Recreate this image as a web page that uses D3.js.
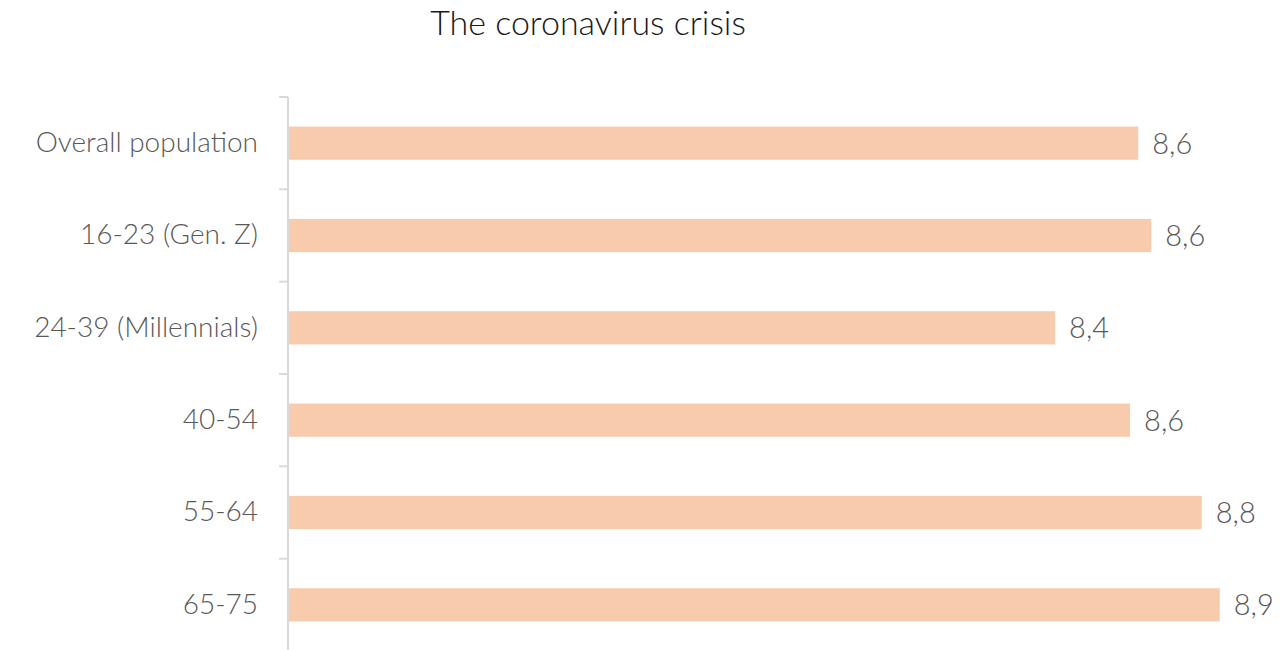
<!DOCTYPE html>
<html>
<head>
<meta charset="utf-8">
<script src="https://cdn.jsdelivr.net/npm/d3@7"></script>
<style>
  body { margin: 0; background: #fff; }
  text { font-family: Lato, "Open Sans", sans-serif; font-weight: 300; }
</style>
</head>
<body>
<div id="chart"></div>
<script>
// chart data
var categories = ["Overall population", "16-23 (Gen. Z)", "24-39 (Millennials)", "40-54", "55-64", "65-75"];
var values = [8.605, 8.645, 8.35, 8.58, 8.80, 8.855];
var valueLabels = ["8,6", "8,6", "8,4", "8,6", "8,8", "8,9"];
var title = "The coronavirus crisis";

var svgWidth = 1281;
var svgHeight = 650;

var margin = { top: 97, right: 62, bottom: 0, left: 289 };

var svg = d3.select("#chart")
  .append("svg")
  .attr("width", svgWidth)
  .attr("height", svgHeight);

var chartData = categories.map(function(c, i) {
  return { cat: c, value: values[i], label: valueLabels[i] };
});

// scales
var xScale = d3.scaleLinear()
  .domain([6, 9])
  .range([margin.left, margin.left + 978]);

var yScale = d3.scaleBand()
  .domain(categories)
  .range([margin.top, 651])
  .paddingInner(0.64)
  .paddingOuter(0.32);

// title
svg.append("text")
  .attr("x", 588)
  .attr("y", 35)
  .attr("text-anchor", "middle")
  .style("font-size", "34px")
  .style("fill", "#1a1a1a")
  .text(title);

// bars
svg.selectAll("rect.bar")
  .data(chartData)
  .enter()
  .append("rect")
  .attr("class", "bar")
  .attr("x", margin.left)
  .attr("y", d => yScale(d.cat))
  .attr("width", d => xScale(d.value) - margin.left)
  .attr("height", yScale.bandwidth())
  .attr("fill", "#f8cbad");

// value labels
svg.selectAll("text.val")
  .data(chartData)
  .enter()
  .append("text")
  .attr("class", "val")
  .attr("x", d => xScale(d.value) + 14)
  .attr("y", d => yScale(d.cat) + yScale.bandwidth() / 2)
  .attr("dy", "0.36em")
  .style("font-size", "29px")
  .style("fill", "#595959")
  .text(d => d.label);

// left axis
var leftAxis = d3.axisLeft(yScale).tickSize(0).tickPadding(30);
var axisG = svg.append("g")
  .attr("transform", `translate(${margin.left - 1}, 0)`)
  .call(leftAxis);
axisG.select(".domain").remove();
axisG.selectAll("text")
  .style("font-size", "28px")
  .style("fill", "#595959")
  .style("font-family", "Lato, 'Open Sans', sans-serif")
  .style("font-weight", "300");

// axis line and tick marks between bands
var step = yScale.step();
var tickYs = d3.range(categories.length + 1).map(i => margin.top + i * step);
svg.append("line")
  .attr("x1", margin.left - 1).attr("x2", margin.left - 1)
  .attr("y1", margin.top).attr("y2", 651)
  .attr("stroke", "#d9d9d9").attr("stroke-width", 2);
svg.selectAll("line.tick")
  .data(tickYs)
  .enter()
  .append("line")
  .attr("class", "tick")
  .attr("x1", margin.left - 10).attr("x2", margin.left - 1)
  .attr("y1", d => d).attr("y2", d => d)
  .attr("stroke", "#d9d9d9").attr("stroke-width", 2);
</script>
</body>
</html>
